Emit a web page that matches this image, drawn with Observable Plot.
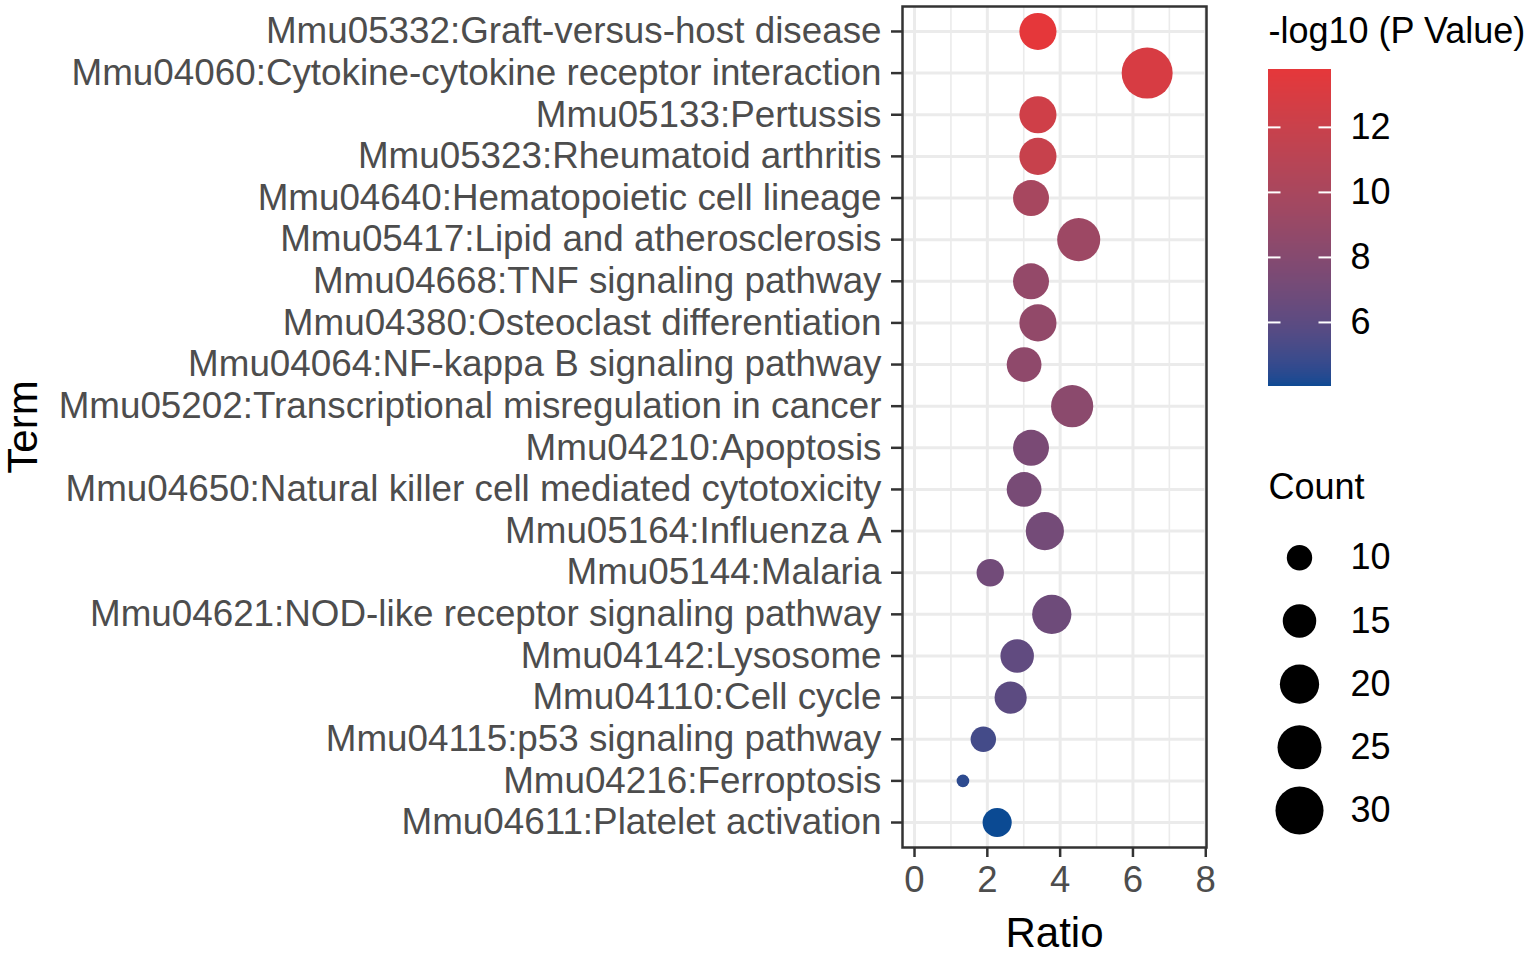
<!DOCTYPE html>
<html>
<head>
<meta charset="utf-8">
<script src="https://cdn.jsdelivr.net/npm/d3@7"></script>
<script src="https://cdn.jsdelivr.net/npm/@observablehq/plot@0.6"></script>
<style>
  html, body { margin: 0; padding: 0; background: white; }
  #wrap { position: relative; width: 1535px; height: 956px; overflow: hidden; }
  #wrap > svg, #wrap > figure { position: absolute; margin: 0; }
</style>
</head>
<body>
<div id="wrap"></div>
<script>
// ---- data (top to bottom) ----
const terms = [
  "Mmu05332:Graft-versus-host disease",
  "Mmu04060:Cytokine-cytokine receptor interaction",
  "Mmu05133:Pertussis",
  "Mmu05323:Rheumatoid arthritis",
  "Mmu04640:Hematopoietic cell lineage",
  "Mmu05417:Lipid and atherosclerosis",
  "Mmu04668:TNF signaling pathway",
  "Mmu04380:Osteoclast differentiation",
  "Mmu04064:NF-kappa B signaling pathway",
  "Mmu05202:Transcriptional misregulation in cancer",
  "Mmu04210:Apoptosis",
  "Mmu04650:Natural killer cell mediated cytotoxicity",
  "Mmu05164:Influenza A",
  "Mmu05144:Malaria",
  "Mmu04621:NOD-like receptor signaling pathway",
  "Mmu04142:Lysosome",
  "Mmu04110:Cell cycle",
  "Mmu04115:p53 signaling pathway",
  "Mmu04216:Ferroptosis",
  "Mmu04611:Platelet activation"
];
const ratios = [3.39, 6.39, 3.39, 3.39, 3.20, 4.51, 3.20, 3.39, 3.01, 4.33,
                3.20, 3.01, 3.58, 2.08, 3.77, 2.82, 2.64, 1.89, 1.33, 2.27];
const counts = [18, 34, 18, 18, 17, 24, 17, 18, 16, 23,
                17, 16, 19, 11, 20, 15, 14, 10, 7, 12];
const logP   = [13.78, 12.9, 12.4, 11.9, 9.9, 9.3, 8.8, 8.7, 8.5, 8.3,
                7.4, 7.3, 7.1, 7.0, 6.8, 6.2, 6.0, 5.1, 4.5, 4.03];
const xTicks = [0, 2, 4, 6, 8];
const xMinorTicks = [1, 3, 5, 7];
const colorTicks = [6, 8, 10, 12];
const sizeTicks = [10, 15, 20, 25, 30];
const colorTitle = "-log10 (P Value)";
const sizeTitle = "Count";
const xTitle = "Ratio";
const yTitle = "Term";

const data = terms.map((t, i) => ({term: t, ratio: ratios[i], count: counts[i], logp: logP[i]}));

// ---- shared scales ----
const [minCount, maxCount] = d3.extent(counts);
const rScale = {type: "sqrt", domain: [0, maxCount - minCount], range: [6.3, 25.5]};
const [pLo, pHi] = d3.extent(logP);
const colorScale = {type: "linear", domain: [pLo, pHi], range: ["#0B4A93", "#E5373A"], interpolate: d3.interpolateLab};
const font = "'Liberation Sans', Arial, Helvetica, sans-serif";
const grid = "#EBEBEB", dark = "#333333", tickText = "#4D4D4D";

const wrap = document.getElementById("wrap");

// ---- main chart ----
const main = Plot.plot({
  width: 1535, height: 956,
  marginLeft: 902, marginRight: 329, marginTop: 6, marginBottom: 109,
  style: {fontFamily: font, fontSize: "36.8px", background: "transparent", overflow: "visible"},
  x: {domain: [-0.33, 8.02]},
  y: {type: "point", domain: terms, padding: 0.6, round: false},
  r: rScale,
  color: colorScale,
  marks: [
    Plot.gridX(xMinorTicks, {stroke: grid, strokeOpacity: 1, strokeWidth: 1.6}),
    Plot.gridX(xTicks, {stroke: grid, strokeOpacity: 1, strokeWidth: 3}),
    Plot.gridY(terms, {stroke: grid, strokeOpacity: 1, strokeWidth: 3}),
    Plot.dot(data, {x: "ratio", y: "term", r: d => d.count - minCount, fill: "logp"}),
    Plot.frame({stroke: dark, strokeWidth: 2.5}),
    Plot.axisY({tickSize: 11, tickPadding: 10, stroke: dark, strokeWidth: 2.5, fill: tickText, fontSize: 36.8, label: null}),
    Plot.axisX(xTicks, {tickSize: 10, tickPadding: 9, stroke: dark, strokeWidth: 2.5, fill: tickText, fontSize: 36.5, label: null}),
    Plot.text([xTitle], {text: d => d, frameAnchor: "bottom", dy: 86, lineAnchor: "middle", textAnchor: "middle", fontSize: 42, fill: "black"}),
    Plot.text([yTitle], {text: d => d, frameAnchor: "left", dx: -879, rotate: -90, lineAnchor: "middle", textAnchor: "middle", fontSize: 42, fill: "black"})
  ]
});
main.style.left = "0px"; main.style.top = "0px";
wrap.appendChild(main);

// ---- colour bar legend ----
const nSlices = 160;
const step = (pHi - pLo) / nSlices;
const slices = d3.range(nSlices).map(i => ({y1: pLo + step * i, y2: Math.min(pHi, pLo + step * (i + 1.6)), v: pLo + step * (i + 0.5)}));
const cbar = Plot.plot({
  width: 267, height: 400,
  marginLeft: 0, marginRight: 204, marginTop: 69, marginBottom: 14,
  style: {fontFamily: font, fontSize: "36px", background: "transparent", overflow: "visible"},
  x: {domain: [0, 1], axis: null},
  y: {domain: [pLo, pHi]},
  color: colorScale,
  marks: [
    Plot.rect(slices, {x1: 0, x2: 1, y1: "y1", y2: "y2", fill: "v", shapeRendering: "crispEdges"}),
    Plot.tickY(colorTicks, {y: d => d, stroke: "white", strokeWidth: 2, insetRight: 50.5}),
    Plot.tickY(colorTicks, {y: d => d, stroke: "white", strokeWidth: 2, insetLeft: 50.5}),
    Plot.axisY(colorTicks, {anchor: "right", tickSize: 0, tickPadding: 19, fill: "black", fontSize: 36, label: null}),
    Plot.text([colorTitle], {text: d => d, frameAnchor: "top-left", dy: -38, textAnchor: "start", lineAnchor: "middle", fontSize: 36, fill: "black"})
  ]
});
cbar.style.left = "1268px"; cbar.style.top = "0px";
wrap.appendChild(cbar);

// ---- size legend ----
const sizeLegend = Plot.plot({
  width: 285, height: 380,
  marginLeft: 0, marginRight: 187, marginTop: 0, marginBottom: 0,
  style: {fontFamily: font, fontSize: "36px", background: "transparent", overflow: "visible"},
  y: {type: "point", domain: sizeTicks, range: [97.3, 350], padding: 0, round: false, axis: null},
  r: rScale,
  marks: [
    Plot.dot(sizeTicks, {y: d => d, r: d => d - minCount, fill: "black"}),
    Plot.text(sizeTicks, {y: d => d, text: d => String(d), frameAnchor: "right", dx: 2, textAnchor: "start", lineAnchor: "middle", fontSize: 36, fill: "black"}),
    Plot.text([sizeTitle], {text: d => d, frameAnchor: "top-left", dx: 18, dy: 27, textAnchor: "start", lineAnchor: "middle", fontSize: 36, fill: "black"})
  ]
});
sizeLegend.style.left = "1250px"; sizeLegend.style.top = "460px";
wrap.appendChild(sizeLegend);
</script>
</body>
</html>
